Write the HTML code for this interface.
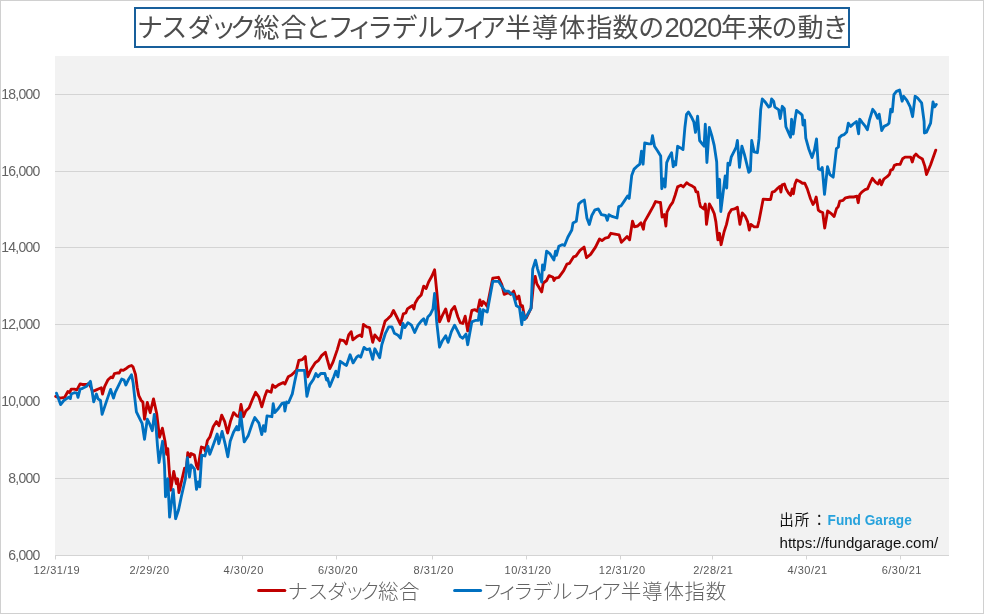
<!DOCTYPE html>
<html lang="ja"><head><meta charset="utf-8"><title>ナスダック総合とフィラデルフィア半導体指数の2020年来の動き</title>
<style>
html,body{margin:0;padding:0;background:#fff;}
body{width:984px;height:614px;overflow:hidden;position:relative;font-family:"Liberation Sans","Noto Sans CJK JP",sans-serif;}
svg{position:absolute;left:0;top:0;display:block;}
text{white-space:pre;}
</style></head><body>
<svg width="984" height="614" viewBox="0 0 984 614">
<rect x="0" y="0" width="984" height="614" fill="#ffffff"/>
<rect x="0.5" y="0.5" width="983" height="613" fill="none" stroke="#d0d0d0" stroke-width="1"/>
<rect x="55" y="56" width="894" height="499" fill="#f2f2f2"/>

<line x1="55" y1="94.5" x2="949" y2="94.5" stroke="#d4d4d4" stroke-width="1"/>
<line x1="55" y1="171.5" x2="949" y2="171.5" stroke="#d4d4d4" stroke-width="1"/>
<line x1="55" y1="247.5" x2="949" y2="247.5" stroke="#d4d4d4" stroke-width="1"/>
<line x1="55" y1="324.5" x2="949" y2="324.5" stroke="#d4d4d4" stroke-width="1"/>
<line x1="55" y1="401.5" x2="949" y2="401.5" stroke="#d4d4d4" stroke-width="1"/>
<line x1="55" y1="478.5" x2="949" y2="478.5" stroke="#d4d4d4" stroke-width="1"/>
<line x1="55" y1="555.5" x2="949" y2="555.5" stroke="#d4d4d4" stroke-width="1"/>
<line x1="55.5" y1="555" x2="55.5" y2="559.5" stroke="#d4d4d4" stroke-width="1"/>
<line x1="148.5" y1="555" x2="148.5" y2="559.5" stroke="#d4d4d4" stroke-width="1"/>
<line x1="242.5" y1="555" x2="242.5" y2="559.5" stroke="#d4d4d4" stroke-width="1"/>
<line x1="336.5" y1="555" x2="336.5" y2="559.5" stroke="#d4d4d4" stroke-width="1"/>
<line x1="432.5" y1="555" x2="432.5" y2="559.5" stroke="#d4d4d4" stroke-width="1"/>
<line x1="526.5" y1="555" x2="526.5" y2="559.5" stroke="#d4d4d4" stroke-width="1"/>
<line x1="620.5" y1="555" x2="620.5" y2="559.5" stroke="#d4d4d4" stroke-width="1"/>
<line x1="712.5" y1="555" x2="712.5" y2="559.5" stroke="#d4d4d4" stroke-width="1"/>
<line x1="806.5" y1="555" x2="806.5" y2="559.5" stroke="#d4d4d4" stroke-width="1"/>
<line x1="900.5" y1="555" x2="900.5" y2="559.5" stroke="#d4d4d4" stroke-width="1"/>
<g font-family="'Liberation Sans',sans-serif" font-size="14" fill="#636363" text-anchor="end" letter-spacing="-0.75">
<text x="39.6" y="99.2">18,000</text>
<text x="39.6" y="176.2">16,000</text>
<text x="39.6" y="252.2">14,000</text>
<text x="39.6" y="329.2">12,000</text>
<text x="39.6" y="406.2">10,000</text>
<text x="39.6" y="483.2">8,000</text>
<text x="39.6" y="560.2">6,000</text>
</g>
<g font-family="'Liberation Sans',sans-serif" font-size="11" fill="#595959" text-anchor="middle" letter-spacing="0.5">
<text x="56.8" y="574">12/31/19</text>
<text x="149.5" y="574">2/29/20</text>
<text x="243.7" y="574">4/30/20</text>
<text x="338.0" y="574">6/30/20</text>
<text x="433.7" y="574">8/31/20</text>
<text x="528.0" y="574">10/31/20</text>
<text x="622.2" y="574">12/31/20</text>
<text x="713.3" y="574">2/28/21</text>
<text x="807.6" y="574">4/30/21</text>
<text x="901.8" y="574">6/30/21</text>
</g>
<polyline fill="none" stroke="#c00000" stroke-width="2.85" stroke-linejoin="round" stroke-linecap="round" points="55.7,396.4 59.8,398.1 64.7,397.3 67.9,391.5 69.6,392.7 71.2,389.1 74.4,389.1 76.9,389.9 80.1,383.9 82.6,384.5 86.7,384.5 89.1,383.4 92.7,391.5 96.4,389.9 98.9,388.8 101.3,387.8 102.5,394 104.6,386.7 107.8,380.1 111.1,376.9 112.7,377.7 114.4,373.6 117.6,372.8 119.2,373.1 120.9,369.9 123.3,370.4 126.6,368.2 129,366.3 131.5,365.5 133.1,367.1 135.5,374.4 137.2,387.5 138.8,395.6 141.2,400.5 142.9,402.1 144.5,419.2 147.3,402.5 150.2,412.7 153.5,398.9 156.7,413.5 159.5,437.2 162.4,428.2 165,441.3 166.7,454.3 167.8,448.6 168.8,464.1 170.7,490.2 173.7,471.4 176.4,483.7 177.6,478.8 178.9,492.6 182.1,478.8 184.6,468.2 186.2,470.6 187.8,452.7 190,456.8 191.1,453.5 194.4,455.1 196.5,465.7 198.1,469 199.2,460 201.4,447 204.1,447.8 205.3,451.1 207.4,440.5 209.8,437.2 213.3,426.5 216.5,421.6 219,425.7 221.7,415.1 224.7,421.6 227.6,433 230.4,421.6 233.6,412.6 236.9,415.9 239,416.7 241,404.5 243.4,416.7 245.8,411 249.1,407.7 252.7,398.8 255.6,392.3 258.9,397.1 261.8,406.9 264.6,397.1 267,390.6 271.1,392.3 272.7,384.9 275.2,387.4 278.4,384.9 283.3,382.5 284.9,384.1 288.2,376.8 291.5,375.1 294.7,371.9 296.4,370.3 298.8,360.5 302.1,359.7 305.3,356.4 306.1,364.6 307.8,376.8 311,369.4 315.1,362.9 318.4,360.5 321.6,355.6 325.4,352.3 327.3,359.7 329.8,368.6 333,362.1 337.3,349.6 340.1,339.8 343.8,340.7 346.3,343.9 348.7,334.9 351.2,331.7 352.8,339.8 356.9,336.6 360.1,334.9 361.8,336.6 363.4,324.4 366.7,326.8 369.6,327.6 372.7,342.3 374.8,334.9 379.7,340.7 382.1,331.7 385.1,321.1 387.8,318.7 391.1,315.4 393.5,310.5 396.8,317 400.4,324.4 403.3,313.8 405.8,313 407.4,308.9 409.8,307.3 412.3,305.6 413.9,308.9 415.1,303.2 418,298.3 421.2,295 423.7,286.1 426.1,288.5 428.6,282 431.8,276.3 434.6,269.8 436.7,291 439.5,321.9 442.4,315.4 445.7,308.9 448.6,321.1 451.4,310.5 454.6,306.4 457.9,317 460.3,322.7 462.8,323.5 465.2,316.2 467.7,330.9 471.8,310.5 475,309.7 477.5,311.3 479.9,299.9 481.5,305.6 483.2,301.5 485.6,304 487.2,306.4 492.8,278.1 498.5,277.3 501.8,284.6 504.2,294.4 508.3,292.7 510.7,294.4 513.7,291.1 516.4,299.2 518.9,296 520.8,306.6 522.5,305.8 524.1,314.7 526.2,318 531.1,308.2 533.5,283.8 535.2,276.4 536.8,283.8 541.7,291.9 543.3,283 546.6,280.5 549,275.6 553.1,277.3 553.9,280.5 555.5,278.1 558.8,277.3 563.7,270.7 566.9,264.2 569.4,263.4 573.5,256.9 575.9,256.1 580,250.4 584.1,247.1 586.5,257.7 590.6,254.4 595.5,247.1 599.5,239 602,240.6 605.2,238.1 608.5,237.3 610.9,233.3 615,234.1 619.1,234.9 621.4,242.3 624.7,239 627.1,236.6 629.6,239.8 632.5,221.1 634.4,226.8 637.7,226 641,222.7 643.4,229.2 644.5,221.9 649.1,213.8 653.2,206.4 655.6,201.5 658.9,202.4 660.5,202.4 662.1,217 664.3,214.6 665.9,226 667,212.1 670.3,205.6 672.7,202.4 675.2,195 677.6,186.9 680.9,185.3 683.3,186.9 686.6,182.8 689,184.4 692.3,186.1 694.7,187.7 696,191.8 697.7,191.8 699.3,201.5 700.4,206.4 703.7,208.9 705.3,204 706.5,224.4 709.4,204 711.8,208.1 714.3,213.8 715.9,221.9 717.9,239.8 719.5,233.3 721.1,244.7 724.1,231.7 726.5,224.4 728.9,213.8 731.4,209.7 734.6,208.9 737.4,207.3 739.9,224.4 742.3,213 745.2,216.2 747.7,221.9 749.3,230.1 750.9,224.4 754.2,226.8 757.5,226.8 759.1,220.3 763.2,199.1 767.3,199.5 770.6,199.5 772.2,192.1 774.7,191.3 777.9,188.1 779.9,186.4 780.9,192.1 782,184.8 784.4,184 786.1,188.9 788.5,193 790.6,195.4 792.3,188.9 793.4,193.8 795,184 796.7,179.9 799.9,181.5 802.4,183.2 804.8,183.2 807.3,188.9 810.5,198.7 813,204.4 814.6,201.9 816.2,197 818.3,210.1 820.3,211.7 822.7,212.5 824.7,228 827.6,210.9 830.9,213.3 834.1,216.6 836.6,208.4 838.2,206.8 839.8,201.1 843.1,200.3 845.5,197.8 849.6,197 853.7,197 856.9,196.2 858.2,202.7 859.7,194.6 861.8,192.1 865.1,189.7 867.5,188.9 870,183.2 872.4,178.3 875.7,182.4 878.1,184 879.8,179.9 881.4,184.8 883.8,179.1 887.1,176.7 889.5,174.2 890.7,170.1 892.8,169.3 894.4,165.3 896.9,164.4 900.1,164.4 902.6,158.7 905,157.1 908.3,157.1 910.7,157.1 912.3,162 914,156.3 915.9,154.1 918.4,156.6 922.4,159 924.9,166.4 926.5,174.5 930.6,164.7 935.8,150.1"/>
<polyline fill="none" stroke="#0070c0" stroke-width="2.85" stroke-linejoin="round" stroke-linecap="round" points="56.5,393.2 60.6,404.6 63.8,400.5 66.3,398.9 68.7,397.3 70.4,398.6 71.2,394 74.4,392.7 76.9,393.2 78,397.3 80.1,389.1 82.6,388.3 86.7,386.2 90.4,381.3 92,390.7 93.7,401.8 96.4,394 98.1,398.9 100.5,400.5 102.1,414.4 106.2,402.1 110.6,389.4 113.5,398.1 115.2,392.4 118.4,385.8 121.7,379 124.1,380.1 125.8,385 128.2,380.1 131.5,374.8 133.1,382.6 134.7,397.3 136.4,411.9 139.6,418.4 142.1,423.3 144.5,439.3 147.3,419.2 149.4,423.3 152.3,430.7 154.3,414.4 155.9,424.9 157.5,446.1 159,462.5 162.6,441.3 164.5,465.7 165.5,496.7 167.8,478.8 169.6,517.1 173.2,489.4 175.6,518.7 178.6,509.7 181.3,496.7 185.4,478.8 187.4,457.6 189.5,477.1 191.1,464.9 194.4,469 196.5,489.4 198.1,482 199.7,486.9 201.7,455.1 204.9,456 206.3,451.1 207.9,446.2 209.8,454.3 213.1,445.4 217.2,434 218.8,443.7 222.1,431.5 225.3,444.6 227.8,456.8 230.2,441.3 233.5,432.3 236.7,426.6 236.9,429.7 239,429.7 240.6,412.6 242.6,429.7 244.2,441.9 248.3,435.4 252.4,423.2 254.8,417.5 258.9,423.2 261.8,434.6 263.4,425.7 265.1,431.4 267,415.9 271.9,416.7 273.2,403.7 274.8,412.6 278.4,408.5 281.7,403.7 284.1,402.8 284.9,411 286.6,402 288.5,402.8 292.3,393.9 294.7,381.7 297.2,370.3 304.5,370.3 306.9,396.3 309.7,384.9 313.5,379.2 315.9,373.5 317.9,376.8 320.8,373.5 324.9,373.5 326.5,380 327.6,378.4 329.8,386.5 333.8,376.8 335.8,371.1 337.9,376.8 340.3,361.3 343.6,363.7 346.5,365.4 350.1,354.8 353.1,362.9 356.6,357.2 358.6,355.6 360.7,357.2 364,347.4 366.7,349.6 369.6,348.8 372.7,359.4 374.8,348.8 379.7,357.8 381.8,344.7 385.4,333.3 388.7,326.8 391.9,326.8 394.4,333.3 397.6,334.9 400.4,338.2 403,323.5 404.9,327.6 407.9,322.7 411.5,325.2 414.7,332.5 418,325.2 421.2,321.1 423.7,318.7 425.8,324.4 427.8,317 430.2,314.6 433,308.9 434.6,293.4 436.7,321.9 439.5,347.2 442.4,340.7 445.7,335.8 448.1,342.3 451.4,331.7 454.6,325.2 457.9,331.7 460.3,336.6 462.8,338.2 466,334.1 467.7,344.7 471.8,321.9 475.8,320.3 478.3,320.3 479.9,308.9 481.5,324.4 483.2,309.7 487.2,312.1 492.8,281.3 498.5,281.3 501.8,286.2 505,291.1 508.3,291.1 510.7,293.5 513.2,294.4 516.4,305.8 519.4,307.4 521.8,324.5 523,312.3 524.6,319.6 531.1,308.2 532.7,269.1 535.5,260.1 537.6,269.1 541.7,282.1 542.5,265 544.1,269.9 546.6,251.2 549.8,253.6 553.9,260.1 555.5,251.2 556.4,255.3 558.8,246.3 562.1,244.7 564.5,245.5 567.8,237.3 571.8,230 573,222.9 576.3,221.2 578.7,204.1 581.2,201.7 584.4,200.1 586.9,218 589.3,224.5 591.8,215.5 595,209.8 598.3,209 601.5,214.7 605.6,215.5 607.3,220.4 608.9,214.7 612.1,216.4 617,218 618.7,206.6 621.1,205.8 624.4,200.9 627.6,196 629.2,198.4 631.7,175.6 634.1,169.1 636.6,166.7 639.8,164.2 641.5,151.2 643.1,164.2 644.7,143 648.8,143.8 651.2,143.8 652.5,135.7 654.5,146.3 657.8,151.2 660.7,156.1 661.8,188.7 663.5,178.9 665.1,187 666.7,162.6 669.2,156.9 671.6,152.8 673.2,166.7 674.9,161.8 675.7,165 677.6,146.3 680.6,147.9 683,149.6 684.9,127.5 686.5,114.4 688.5,112 691.4,116.9 693.8,121.8 695.5,132.4 697.6,116.1 699.6,140.5 702.8,144.6 704.1,146.2 705.3,124.2 706.9,162.5 709.3,127.5 711.8,135.6 714.2,145.4 716.7,162 717.8,197.6 719.6,179.3 720.8,211.5 725.2,176 726.7,188 727.9,163.2 728.1,163.3 729.7,164.9 731.3,156.8 734.6,150.3 736.2,147 737.4,140.5 739.5,167.4 741.9,146.2 744.4,154.4 746.8,164.1 748.8,172.3 750.4,170.7 751.7,140.5 754.1,151.9 757.4,152.7 759,138.9 760.7,109.6 762.3,99 764.7,101.4 768.8,107.1 770.4,106.3 771.6,99 773.7,101.4 774.8,107.1 778.6,109.6 780.2,118.5 782.3,106.3 784.3,108.7 785.9,126.7 788.4,132.4 790.5,137.3 791.6,119.3 793.2,134 794.9,120.1 796.5,110.4 800.6,113.6 802.2,115.3 803,125 804.6,120.1 805.8,138.1 808.7,148.7 812,157.6 814.4,150.3 816.5,138.9 818.5,169 820.9,169.8 822.2,167.4 824.5,194.3 827.5,166.6 829.9,174.7 833.2,177.2 836.4,148.7 838.4,147 839.3,137.8 841.8,135.4 844.2,134.6 846.7,132.1 848.3,123.2 850.7,126.4 853.2,124 856.4,121.5 858.6,133.8 859.7,119.1 862.1,122.4 865.4,126.4 867.4,129.7 869.5,119.9 872.7,109.3 875.2,112.6 877.6,118.3 879.2,114.2 881.7,130.5 884.1,126.4 887.4,124.8 889,123.2 890.7,109.3 892.3,111.8 893.9,94.7 896.4,91.4 899.6,90.1 902.1,101.2 903.7,96.3 906.9,100.4 910.2,106.9 912.6,116.7 915.1,96.3 917.5,97.9 921.6,102.8 924.1,121.5 924.4,133 926.5,132.1 930.6,123.2 933,102 934.6,106.9 936.3,104.4"/>
<rect x="135" y="8" width="714" height="39" fill="#ffffff" stroke="#185f9b" stroke-width="2"/>
<text font-family="'Liberation Sans','Noto Sans CJK JP',sans-serif" font-size="26" fill="#4d4d4d" x="137.0 161.3 187.6 210.5 230.0 253.6 280.6 305.0 327.7 347.2 367.2 391.5 417.3 441.7 461.6 480.0 505.1 532.0 559.2 586.4 612.6 638.3 664.4 678.6 692.8 707.0 721.0 747.0 771.5 797.6 822.4" y="37.2">ナスダック総合とフィラデルフィア半導体指数の<tspan font-size="27.5">2020</tspan>年来の動き</text>
<line x1="258.6" y1="590.4" x2="284.8" y2="590.4" stroke="#c00000" stroke-width="3" stroke-linecap="round"/>
<text font-family="'Liberation Sans','Noto Sans CJK JP',sans-serif" font-size="20.5" font-weight="300" fill="#636363" x="287.6 307.8 327.1 344.4 359.8 377.9 399.1" y="599.2">ナスダック総合</text>
<line x1="454.6" y1="590.4" x2="480.6" y2="590.4" stroke="#0070c0" stroke-width="3" stroke-linecap="round"/>
<text font-family="'Liberation Sans','Noto Sans CJK JP',sans-serif" font-size="20.5" font-weight="300" fill="#636363" x="482.4 497.8 513.0 532.4 552.1 571.0 586.1 600.8 620.8 642.1 663.4 684.5 705.8" y="599.2">フィラデルフィア半導体指数</text>
<text font-family="'Liberation Sans','Noto Sans CJK JP',sans-serif" font-size="14.5" fill="#111111" x="779.3 794.8 812" y="524.6">出所：</text>
<text font-family="'Liberation Sans',sans-serif" font-weight="bold" font-size="14" fill="#27a2dc" x="827.6" y="524.5" textLength="84.2" lengthAdjust="spacingAndGlyphs">Fund Garage</text>
<text font-family="'Liberation Sans',sans-serif" font-size="14" fill="#111111" x="779.5" y="548.4" textLength="158.8" lengthAdjust="spacingAndGlyphs">https://fundgarage.com/</text>
</svg></body></html>
